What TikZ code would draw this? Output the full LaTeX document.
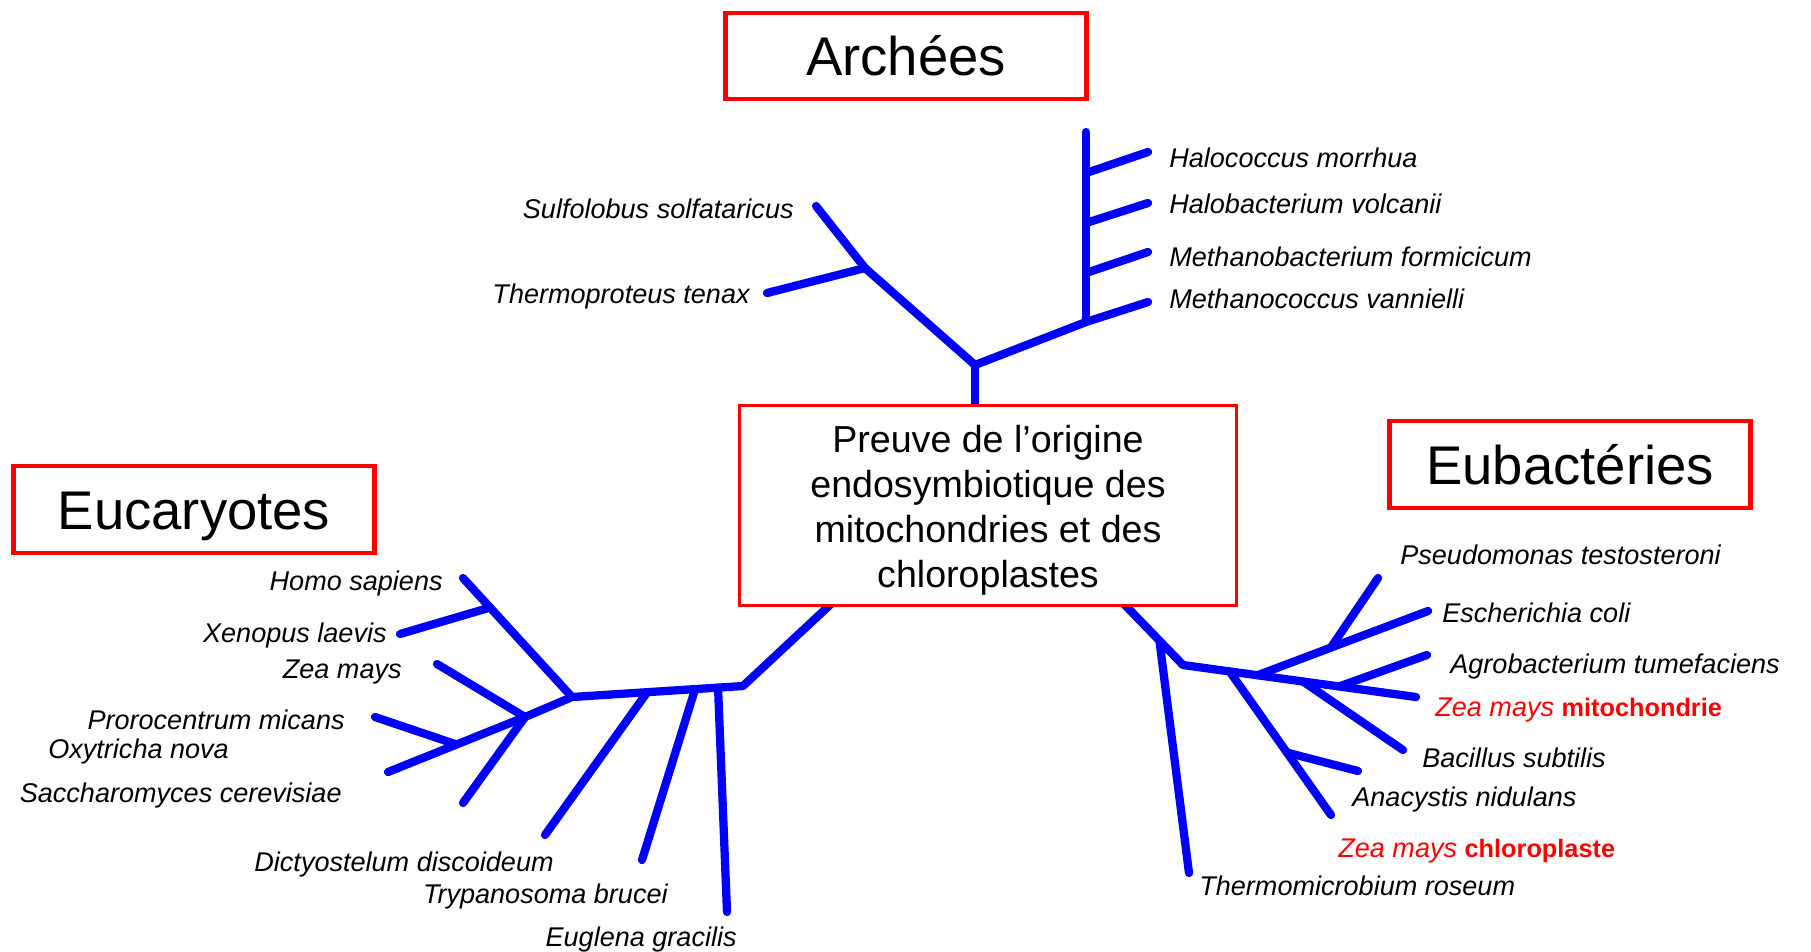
\documentclass[tikz,border=0pt]{standalone}
\usepackage{fontspec}
\setmainfont{Liberation Sans}
\usetikzlibrary{positioning,calc,backgrounds}
\newcommand{\organelle}[1]{{\fontsize{14.4}{18}\selectfont\upshape\bfseries #1}}

\begin{document}
\begin{tikzpicture}[
    x=0.02cm, y=-0.02cm,
    title_box/.style={draw=red, line width=2.5pt, fill=white, rectangle, minimum width=7.22cm, minimum height=1.73cm, inner sep=0pt, font=\fontsize{31}{37}\selectfont, text height=22.2pt, text depth=0pt},
    main_box/.style={draw=red, line width=1.7pt, fill=white, rectangle, minimum width=9.94cm, minimum height=4cm, inner sep=0pt, align=center, font=\fontsize{21.4}{25.7}\selectfont},
    taxon/.style={inner sep=0pt, font=\fontsize{15.4}{18}\selectfont\itshape},
    branch/.style={draw=blue, line width=4.7pt, line cap=round, line join=round}
]

\useasboundingbox (0,0) rectangle (1811,951);

\node[title_box] (archees) at (906,56) {Archées};
\node[title_box] (eucaryotes) at (194,509.5) {Eucaryotes};
\node[title_box] (eubacteries) at (1570,464.5) {Eubactéries};
\node[main_box] (preuve) at (988,505.5) {\rule{0pt}{20.8pt}Preuve de l’origine\\endosymbiotique des\\mitochondries et des\\chloroplastes};

\coordinate (a_root) at (975,365);
\coordinate (a_sulf_node) at (865,268);
\coordinate (a_sulf) at (816,206);
\coordinate (a_thermo) at (767,293);
\coordinate (a_meth_node) at (1086,322);
\coordinate (a_top) at (1086,132);
\coordinate (a_halococ) at (1148,152);
\coordinate (a_halobac) at (1148,203);
\coordinate (a_methbac) at (1148,252);
\coordinate (a_methcoc) at (1148,302);

\coordinate (e_start) at (832,603);
\coordinate (e_bend) at (743,686);
\coordinate (e_node1) at (572,697);
\coordinate (e_node2) at (525,717);
\coordinate (e_euglena) at (727,912);
\coordinate (e_trypano) at (642,860);
\coordinate (e_dictyo) at (545,835);
\coordinate (e_homo) at (463,578);
\coordinate (e_xenopus) at (400,634);
\coordinate (e_zea) at (437,664);
\coordinate (e_sacchar) at (463,803);
\coordinate (e_oxytri) at (388,772);
\coordinate (e_proro) at (375,717);

\coordinate (b_start) at (1124,604);
\coordinate (b_bend) at (1183,665);
\coordinate (b_mito) at (1416,697);
\coordinate (b_thermo) at (1189,873);
\coordinate (b_coli) at (1428,611);
\coordinate (b_pseudo) at (1378,578);
\coordinate (b_agro) at (1427,655);
\coordinate (b_bacil) at (1403,750);
\coordinate (b_chloro) at (1331,815);
\coordinate (b_anacy) at (1358,771);
\coordinate (b_cyano) at ($(b_bend)!0.2!(b_mito)$);
\coordinate (b_proteo) at ($(b_bend)!0.32!(b_mito)$);

\begin{scope}[on background layer]
\draw[branch] (a_root |- preuve.north) -- (a_root);
\draw[branch] (a_root) -- (a_sulf_node) -- (a_sulf);
\draw[branch] (a_sulf_node) -- (a_thermo);
\draw[branch] (a_root) -- (a_meth_node) -- (a_methcoc);
\draw[branch] (a_meth_node) -- (a_top);
\draw[branch] ($(a_top)!0.216!(a_meth_node)$) -- (a_halococ);
\draw[branch] ($(a_top)!0.479!(a_meth_node)$) -- (a_halobac);
\draw[branch] ($(a_top)!0.742!(a_meth_node)$) -- (a_methbac);

\draw[branch] (e_start) -- (e_bend) -- (e_node1) -- (e_node2) -- (e_oxytri);
\draw[branch] ($(e_node1)!0.854!(e_bend)$) -- (e_euglena);
\draw[branch] ($(e_node1)!0.72!(e_bend)$) -- (e_trypano);
\draw[branch] ($(e_node1)!0.44!(e_bend)$) -- (e_dictyo);
\draw[branch] (e_node1) -- (e_homo);
\draw[branch] ($(e_node1)!0.752!(e_homo)$) -- (e_xenopus);
\draw[branch] (e_node2) -- (e_zea);
\draw[branch] (e_node2) -- (e_sacchar);
\draw[branch] ($(e_node2)!0.5!(e_oxytri)$) -- (e_proro);

\draw[branch] (b_start) -- (b_bend) -- (b_mito);
\draw[branch] ($(b_start)!0.6!(b_bend)$) -- (b_thermo);
\draw[branch] (b_proteo) -- (b_coli);
\draw[branch] ($(b_proteo)!0.43!(b_coli)$) -- (b_pseudo);
\draw[branch] ($(b_bend)!0.67!(b_mito)$) -- (b_agro);
\draw[branch] ($(b_bend)!0.515!(b_mito)$) -- (b_bacil);
\draw[branch] (b_cyano) -- (b_chloro);
\draw[branch] ($(b_cyano)!0.565!(b_chloro)$) -- (b_anacy);
\end{scope}

\node[taxon, anchor=base east] (sulfolobus) at (794,218) {Sulfolobus solfataricus};
\node[taxon, anchor=base east] (thermoproteus) at (750,303) {Thermoproteus tenax};
\node[taxon, anchor=base west] (halococcus) at (1169,167) {Halococcus morrhua};
\node[taxon, anchor=base west] (halobacterium) at (1169,213) {Halobacterium volcanii};
\node[taxon, anchor=base west] (methanobacterium) at (1169,266) {Methanobacterium formicicum};
\node[taxon, anchor=base west] (methanococcus) at (1169,308) {Methanococcus vannielli};

\node[taxon, anchor=base east] (homo) at (443,590) {Homo sapiens};
\node[taxon, anchor=base east] (xenopus) at (387,642) {Xenopus laevis};
\node[taxon, anchor=base east] (zea_euc) at (402,678) {Zea mays};
\node[taxon, anchor=base east] (prorocentrum) at (345,729) {Prorocentrum micans};
\node[taxon, anchor=base west] (oxytricha) at (48,758) {Oxytricha nova};
\node[taxon, anchor=base east] (saccharomyces) at (342,802) {Saccharomyces cerevisiae};
\node[taxon, anchor=base east] (dictyostelum) at (554,871) {Dictyostelum discoideum};
\node[taxon, anchor=base east] (trypanosoma) at (668,903) {Trypanosoma brucei};
\node[taxon, anchor=base east] (euglena) at (737,946) {Euglena gracilis};

\node[taxon, anchor=base west] (pseudomonas) at (1400,564) {Pseudomonas testosteroni};
\node[taxon, anchor=base west] (escherichia) at (1442,622) {Escherichia coli};
\node[taxon, anchor=base west] (agrobacterium) at (1450,673) {Agrobacterium tumefaciens};
\node[taxon, anchor=base west, text=red] (zea_mito) at (1435,716) {Zea mays \organelle{mitochondrie}};
\node[taxon, anchor=base west] (bacillus) at (1422,767) {Bacillus subtilis};
\node[taxon, anchor=base west] (anacystis) at (1352,806) {Anacystis nidulans};
\node[taxon, anchor=base west, text=red] (zea_chloro) at (1338,857) {Zea mays \organelle{chloroplaste}};
\node[taxon, anchor=base west] (thermomicrobium) at (1199,895) {Thermomicrobium roseum};

\end{tikzpicture}
\end{document}
